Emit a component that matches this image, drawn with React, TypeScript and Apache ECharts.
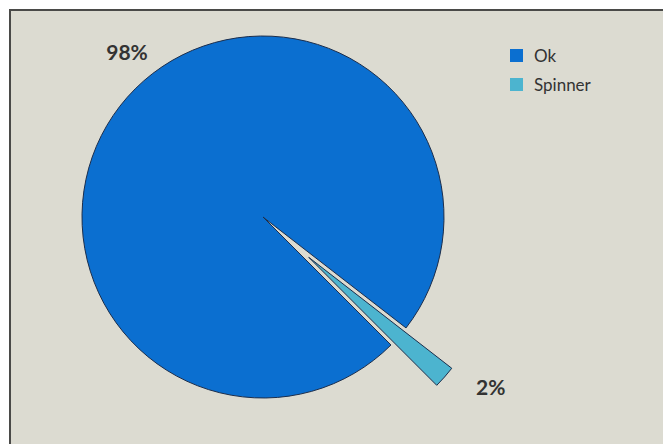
import React, { useEffect, useRef } from "react";
import * as echarts from "echarts";

const categories = ["Ok", "Spinner"];
const values = [98, 2];
const colors = ["#0b6fd0", "#4cb4cf"];
const labelTexts = ["98%", "2%"];

export default function App() {
  const ref = useRef<HTMLDivElement>(null);
  useEffect(() => {
    if (!ref.current) return;
    const chart = echarts.init(ref.current, null, { renderer: "svg" });
    chart.setOption({
      animation: false,
      backgroundColor: "#ffffff",
      graphic: [
        {
          type: "rect",
          z: -10,
          shape: { x: 10, y: 10, width: 670, height: 450 },
          style: { fill: "#dcdbd1", stroke: "#4a4a48", lineWidth: 2 },
        },
      ],
      legend: {
        orient: "vertical",
        left: 505,
        top: 42,
        icon: "rect",
        itemWidth: 13,
        itemHeight: 13,
        itemGap: 12,
        selectedMode: false,
        data: categories,
        itemStyle: { borderWidth: 0 },
        textStyle: {
          fontSize: 17,
          color: "#333",
          fontFamily: "Lato",
          padding: [0, 0, 0, 6],
        },
      },
      series: [
        {
          type: "pie",
          center: [263, 217],
          radius: 181,
          startAngle: -45,
          clockwise: true,
          selectedMode: "single",
          selectedOffset: 61,
          silent: true,
          emphasis: { disabled: true },
          itemStyle: { borderColor: "#1c2e4c", borderWidth: 1 },
          label: {
            show: true,
            position: "outside",
            fontSize: 21,
            fontWeight: "bold",
            color: "#333",
            fontFamily: "Lato",
            formatter: (p: any) => labelTexts[p.dataIndex],
          },
          labelLine: { show: false },
          labelLayout: (p: any) =>
            p.dataIndex === 0
              ? { x: 127, y: 51, align: "center", verticalAlign: "middle" }
              : { x: 469, y: 391, align: "center", verticalAlign: "middle" },
          data: categories.map((name, i) => ({
            name,
            value: values[i],
            selected: i === 1,
            itemStyle: { color: colors[i] },
          })),
        },
      ],
    });
    return () => chart.dispose();
  }, []);
  return (
    <div
      ref={ref}
      style={{ position: "fixed", left: 0, top: 0, width: 663, height: 444 }}
    />
  );
}
